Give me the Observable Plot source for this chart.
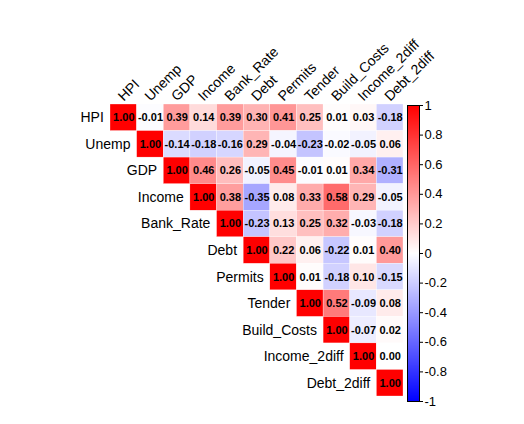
<!DOCTYPE html>
<html>
<head>
<meta charset="utf-8">
<script src="https://cdn.jsdelivr.net/npm/d3@7"></script>
<script src="https://cdn.jsdelivr.net/npm/@observablehq/plot@0.6"></script>
<style>
  body { margin: 0; background: #fff; }
  #chart { position: relative; width: 524px; height: 424px; }
  #chart svg { position: absolute; left: 0; top: 0; }
</style>
</head>
<body>
<div id="chart"></div>
<script>
const vars = ['HPI', 'Unemp', 'GDP', 'Income', 'Bank_Rate', 'Debt', 'Permits', 'Tender', 'Build_Costs', 'Income_2diff', 'Debt_2diff']

// upper triangle, each row starts at the diagonal
const rowHPI = [1.00, -0.01, 0.39, 0.14, 0.39, 0.30, 0.41, 0.25, 0.01, 0.03, -0.18]
const rowUnemp = [1.00, -0.14, -0.18, -0.16, 0.29, -0.04, -0.23, -0.02, -0.05, 0.06]
const rowGDP = [1.00, 0.46, 0.26, -0.05, 0.45, -0.01, 0.01, 0.34, -0.31]
const rowIncome = [1.00, 0.38, -0.35, 0.08, 0.33, 0.58, 0.29, -0.05]
const rowBankRate = [1.00, -0.23, 0.13, 0.25, 0.32, -0.03, -0.18]
const rowDebt = [1.00, 0.22, 0.06, -0.22, 0.01, 0.40]
const rowPermits = [1.00, 0.01, -0.18, 0.10, -0.15]
const rowTender = [1.00, 0.52, -0.09, 0.08]
const rowBuildCosts = [1.00, -0.07, 0.02]
const rowIncome2diff = [1.00, 0.00]
const rowDebt2diff = [1.00]

const barTicks = [1, 0.8, 0.6, 0.4, 0.2, 0, -0.2, -0.4, -0.6, -0.8, -1]

const rows = [rowHPI, rowUnemp, rowGDP, rowIncome, rowBankRate, rowDebt, rowPermits, rowTender, rowBuildCosts, rowIncome2diff, rowDebt2diff]
const cells = []
rows.forEach((r, i) => r.forEach((v, k) => cells.push({i: i, j: i + k, v: v})))

const font = '"Liberation Sans", Arial, sans-serif'
const color = {type: 'linear', domain: [-1, 0, 1], range: ['blue', 'white', 'red']}

const chart = Plot.plot({
  width: 524,
  height: 424,
  marginLeft: 110,
  marginRight: 121,
  marginTop: 104,
  marginBottom: 28,
  style: {fontFamily: font, background: 'transparent'},
  x: {domain: [0, 11], axis: null},
  y: {domain: [0, 11], axis: null, reverse: true},
  color: color,
  marks: [
    Plot.rect(cells, {
      x1: 'j', x2: d => d.j + 1,
      y1: 'i', y2: d => d.i + 1,
      fill: 'v', stroke: 'white', strokeWidth: 0.3,
    }),
    Plot.text(cells, {
      x: d => d.j + 0.5, y: d => d.i + 0.5,
      text: d => d.v.toFixed(2),
      fontWeight: 'bold', fontSize: 11, fill: 'black',
    }),
    // row labels next to the diagonal
    Plot.text(vars, {
      x: (d, i) => i - 0.25, y: (d, i) => i + 0.5,
      text: d => d, textAnchor: 'end', fontSize: 14, fill: 'black',
    }),
    // column labels on top
    Plot.text(vars, {
      x: (d, i) => i + 0.5, y: -0.1,
      text: d => d, rotate: -45, textAnchor: 'start', lineAnchor: 'bottom',
      fontSize: 14, fill: 'black',
    }),
  ],
})

const bar = Plot.plot({
  width: 524,
  height: 424,
  marginLeft: 407,
  marginRight: 105,
  marginTop: 105,
  marginBottom: 23,
  style: {fontFamily: font, background: 'transparent'},
  x: {domain: [0, 1], axis: null},
  y: {domain: [-1, 1]},
  color: color,
  marks: [
    Plot.raster({fill: (x, y) => y, x1: 0, x2: 1, y1: -1, y2: 1, width: 1, height: 300}),
    Plot.frame({stroke: 'black'}),
    Plot.axisY(barTicks, {
      anchor: 'right', tickSize: 3, tickPadding: 2,
      tickFormat: d => String(d), fontSize: 13, label: null,
    }),
  ],
})

d3.select('#chart').append(() => chart)
d3.select('#chart').append(() => bar)
</script>
</body>
</html>
